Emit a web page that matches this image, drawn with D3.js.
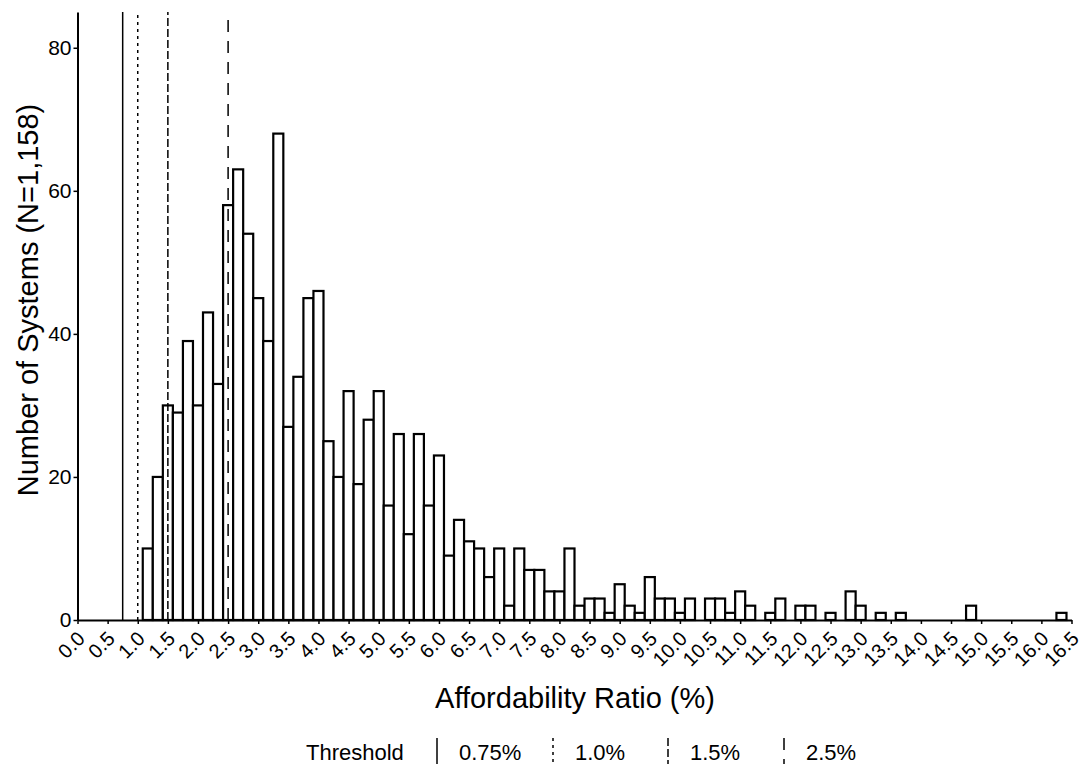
<!DOCTYPE html>
<html>
<head>
<meta charset="utf-8">
<style>
    body { margin: 0; background: #fff; }
    text { font-family: "Liberation Sans", Arial, Helvetica, sans-serif; fill: #000; }
</style>
</head>
<body>
<svg width="1086" height="767"></svg>

<script src="https://d3js.org/d3.v7.min.js"></script>

<script>
    // histogram bins: width 1/6, first bin centred on 7/6 (%)
    var binWidth = 1 / 6;
    var firstMid = 7 / 6;
    var counts = [10, 20, 30, 29, 39, 30, 43, 33, 58, 63, 54, 45, 39, 68, 27, 34, 45, 46,
        25, 20, 32, 19, 28, 32, 16, 26, 12, 26, 16, 23, 9, 14, 11, 10, 6, 10, 2, 10,
        7, 7, 4, 4, 10, 2, 3, 3, 1, 5, 2, 1, 6, 3, 3, 1, 3, 0, 3, 3, 1, 4, 2, 0,
        1, 3, 0, 2, 2, 0, 1, 0, 4, 2, 0, 1, 0, 1, 0, 0, 0, 0, 0, 0, 2, 0, 0, 0,
        0, 0, 0, 0, 0, 1];

    var xTicks = d3.range(0, 16.51, 0.5);
    var yTicks = [0, 20, 40, 60, 80];

    var thresholds = [0.75, 1.0, 1.5, 2.5];
    var thresholdLabels = ["0.75%", "1.0%", "1.5%", "2.5%"];
    var thresholdDash = ["none", "3,4", "8,3", "12,9"];
</script>

<script>
    function makeHistogram() {

        var svg = d3.select("svg");

        var x = d3.scaleLinear().domain([0, 16.5]).range([77.5, 1071.5]),
            y = d3.scaleLinear().domain([0, 85]).range([620, 12]);

        var bins = counts.map(function(c, i) {
            var mid = firstMid + i * binWidth;
            return { x0: mid - binWidth / 2, x1: mid + binWidth / 2, n: c };
        }).filter(function(d) { return d.n > 0; });

        // bars
        svg.append("g")
            .selectAll("rect")
            .data(bins)
            .enter().append("rect")
            .attr("x", function(d) { return x(d.x0); })
            .attr("width", function(d) { return x(d.x1) - x(d.x0); })
            .attr("y", function(d) { return y(d.n); })
            .attr("height", function(d) { return y(0) - y(d.n); })
            .attr("fill", "#fff")
            .attr("stroke", "#000")
            .attr("stroke-width", 2.2);

        // threshold lines
        svg.append("g")
            .selectAll("line")
            .data(thresholds)
            .enter().append("line")
            .attr("x1", function(d) { return x(d); })
            .attr("x2", function(d) { return x(d); })
            .attr("y1", y(0))
            .attr("y2", y(85))
            .attr("stroke", "#000")
            .attr("stroke-width", 1.5)
            .attr("stroke-dasharray", function(d, i) { return thresholdDash[i]; });

        // axes
        var gx = svg.append("g")
            .attr("transform", "translate(0," + y(0) + ")")
            .call(d3.axisBottom(x).tickValues(xTicks).tickFormat(d3.format(".1f")).tickSize(4).tickSizeOuter(0));

        gx.selectAll("text")
            .attr("font-size", 20)
            .attr("text-anchor", "end")
            .attr("dy", null)
            .attr("y", 0)
            .attr("transform", "translate(8,20) rotate(-45)");

        var gy = svg.append("g")
            .attr("transform", "translate(" + x(0) + ",0)")
            .call(d3.axisLeft(y).tickValues(yTicks).tickSize(4).tickSizeOuter(0));

        gy.selectAll("text").attr("font-size", 21).attr("x", -6);

        svg.selectAll(".domain").attr("stroke-width", 2);
        svg.selectAll(".tick line").attr("stroke-width", 1.5);

        // axis titles
        svg.append("text")
            .attr("x", 575)
            .attr("y", 708)
            .attr("text-anchor", "middle")
            .attr("font-size", 29)
            .text("Affordability Ratio (%)");

        svg.append("text")
            .attr("transform", "translate(38,300) rotate(-90)")
            .attr("text-anchor", "middle")
            .attr("font-size", 29)
            .text("Number of Systems (N=1,158)");

        // legend
        var legend = svg.append("g").attr("transform", "translate(0,760)");

        legend.append("text")
            .attr("x", 306)
            .attr("y", 0)
            .attr("font-size", 22)
            .text("Threshold");

        var itemX = [437, 553, 668, 784];

        var item = legend.selectAll(".item")
            .data(thresholdLabels)
            .enter().append("g")
            .attr("class", "item")
            .attr("transform", function(d, i) { return "translate(" + itemX[i] + ",0)"; });

        item.append("line")
            .attr("x1", 0).attr("x2", 0)
            .attr("y1", -22).attr("y2", 4)
            .attr("stroke", "#000")
            .attr("stroke-width", 1.5)
            .attr("stroke-dasharray", function(d, i) { return thresholdDash[i]; });

        item.append("text")
            .attr("x", 22)
            .attr("y", 0)
            .attr("font-size", 22)
            .text(function(d) { return d; });
    }

    makeHistogram();
</script>
</body>
</html>
